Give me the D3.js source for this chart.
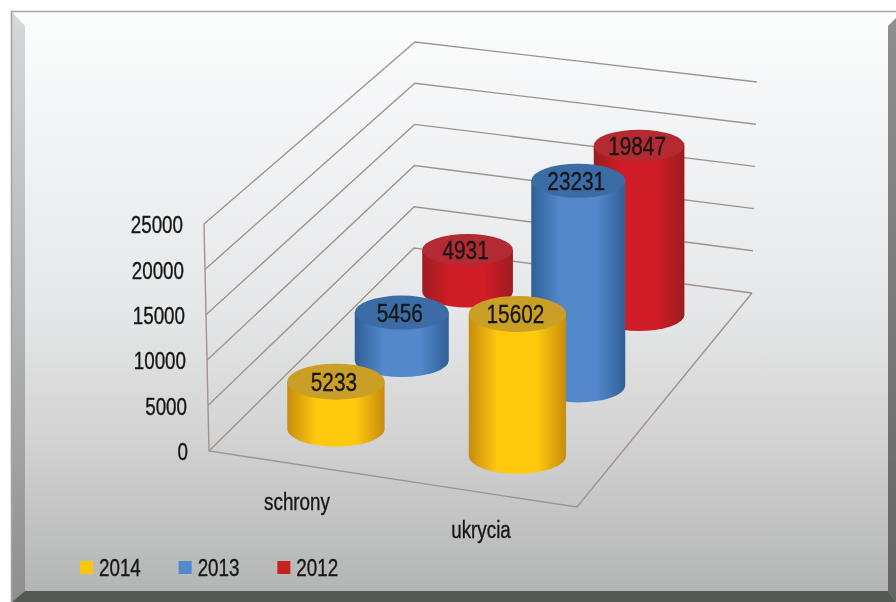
<!DOCTYPE html>
<html>
<head>
<meta charset="utf-8">
<script src="https://cdn.jsdelivr.net/npm/d3@7"></script>
<style>
  html, body { margin: 0; padding: 0; background: #fff; }
  svg { display: block; }
  text { font-family: "Liberation Sans", sans-serif; fill: #161616; stroke: #161616; stroke-width: 0.35px; font-size: 23.5px; }
  .valueLabel { font-size: 26px; }
</style>
</head>
<body>
<div id="d3-container"></div>
<script>
var categories = ["schrony", "ukrycia"];
var years = ["2012", "2013", "2014"];
var values2012 = [4931, 19847];
var values2013 = [5456, 23231];
var values2014 = [5233, 15602];
var yTicks = [0, 5000, 10000, 15000, 20000, 25000];
var legendYears = ["2014", "2013", "2012"];

var width = 896, height = 602;
var seriesValues = {"2012": values2012, "2013": values2013, "2014": values2014};

var colors = {
  "2014": {top: "#c99f25", mid: "#ffc90c", edge: "#c68c12", key: "#fdc60f"},
  "2013": {top: "#3a6ca6", mid: "#5288ca", edge: "#2f5f97", key: "#4f8bcb"},
  "2012": {top: "#b32a30", mid: "#cf1e26", edge: "#9c1c21", key: "#c8201f"}
};

var svg = d3.select("#d3-container")
  .append("svg")
    .attr("width", width)
    .attr("height", height);

var defs = svg.append("defs");

// the reference is a soft scan, so everything gets a slight blur
defs.append("filter").attr("id", "soft")
  .attr("x", 0).attr("y", 0).attr("width", 1).attr("height", 1)
  .append("feGaussianBlur").attr("stdDeviation", 0.45);

// panel background
var bg = defs.append("linearGradient").attr("id", "bg")
  .attr("x1", 0).attr("x2", 0).attr("y1", 0).attr("y2", 1);
[[0, "#fcfdfd"], [0.18, "#f3f5f6"], [0.5, "#e6e7e8"], [0.72, "#d3d3d3"], [1, "#b1b3b2"]].forEach(function(s) {
  bg.append("stop").attr("offset", s[0]).attr("stop-color", s[1]);
});
var leftBevel = defs.append("linearGradient").attr("id", "leftBevel")
  .attr("x1", 0).attr("x2", 0).attr("y1", 0).attr("y2", 1);
[[0, "#d6d8d9"], [0.5, "#b4b5b6"], [1, "#8e8e8e"]].forEach(function(s) {
  leftBevel.append("stop").attr("offset", s[0]).attr("stop-color", s[1]);
});
var rightBevel = defs.append("linearGradient").attr("id", "rightBevel")
  .attr("x1", 0).attr("x2", 0).attr("y1", 0).attr("y2", 1);
[[0, "#8f8f8f"], [1, "#646464"]].forEach(function(s) {
  rightBevel.append("stop").attr("offset", s[0]).attr("stop-color", s[1]);
});

var chart = svg.append("g").attr("filter", "url(#soft)");

chart.append("rect").attr("x", 0).attr("y", 0).attr("width", width).attr("height", height)
  .attr("fill", "#fff");
chart.append("rect").attr("x", 12).attr("y", 12).attr("width", 884).attr("height", 590)
  .attr("fill", "url(#bg)");
chart.append("path").attr("d", "M12,12L25,26V591L12,602Z").attr("fill", "url(#leftBevel)");
chart.append("path").attr("d", "M896,18L888,26V591L896,602Z").attr("fill", "url(#rightBevel)");
chart.append("path").attr("d", "M12,602L25,591H888L896,602Z").attr("fill", "#565857");
chart.append("path").attr("d", "M11.5,602V11.5H896").attr("fill", "none")
  .attr("stroke", "#a9a5a2").attr("stroke-width", 1.6);

// cube corners, front-left, front-right, back-right, back-left
var floorFront = d3.scaleLinear().domain([0, 1]).range([[209, 451], [577, 507]]);
var floorBack = d3.scaleLinear().domain([0, 1]).range([[414, 248], [752, 293]]);
var roofFront = d3.scaleLinear().domain([0, 1]).range([[204, 224], [581, 275]]);
var roofBack = d3.scaleLinear().domain([0, 1]).range([[415, 42], [757, 82]]);

var xBand = d3.scaleBand().domain(categories).range([0, 1]);
var zBand = d3.scaleBand().domain(["2014", "2013", "2012"]).range([0, 1]);
var rx = d3.scaleLinear().domain([0, 1]).range([49.5, 44.5]);
var ry = d3.scaleLinear().domain([0, 1]).range([18.5, 15.5]);

function project(u, v, val) {
  var floor = d3.scaleLinear().domain([0, 1]).range([floorFront(u), floorBack(u)])(v);
  var roof = d3.scaleLinear().domain([0, 1]).range([roofFront(u), roofBack(u)])(v);
  return d3.scaleLinear().domain([0, 25000]).range([floor, roof])(val);
}

// narrow look, there is no condensed font installed
function squeeze(x, y) {
  return "translate(" + x + "," + y + ") scale(0.8,1)";
}

// grid on the walls
var grid = chart.append("g").attr("fill", "none")
  .attr("stroke", "#a0938f").attr("stroke-width", 1.4);
grid.selectAll("path.wall")
  .data(yTicks)
  .enter()
  .append("path")
    .attr("class", "wall")
    .attr("d", function(t) {
      return d3.line()([project(0, 0, t), project(0, 1, t), project(1, 1, t)]);
    });
grid.append("path")
  .attr("d", d3.line()([project(0, 0, 25000), project(0, 0, 0), project(1, 0, 0), project(1, 1, 0)]));

// y tick labels
chart.append("g")
  .selectAll("text")
  .data(yTicks)
  .enter()
  .append("text")
    .attr("transform", function(t) {
      var p = project(0, 0, t);
      return squeeze(p[0] - 21, p[1] + 1);
    })
    .attr("dy", "0.35em")
    .attr("text-anchor", "end")
    .text(function(t) { return t; });

// flatten to one row per cylinder, back ones first
var rows = [];
years.forEach(function(year) {
  categories.forEach(function(cat, i) {
    rows.push({year: year, cat: cat, value: seriesValues[year][i]});
  });
});

rows.forEach(function(d) {
  d.u = xBand(d.cat) + xBand.bandwidth() / 2;
  d.v = zBand(d.year) + zBand.bandwidth() / 2;
  var p = project(d.u, d.v, 0);
  d.base = [p[0] + 2, p[1] - 2];
  d.topY = project(d.u, d.v, d.value)[1] - 2;
  d.rx = rx(d.v);
  d.ry = ry(d.v);
});

years.forEach(function(year) {
  var g = defs.append("linearGradient").attr("id", "side" + year);
  [[0, colors[year].edge], [0.3, colors[year].mid], [0.7, colors[year].mid], [1, colors[year].edge]].forEach(function(s) {
    g.append("stop").attr("offset", s[0]).attr("stop-color", s[1]);
  });
});

var bars = chart.append("g").selectAll("g")
  .data(rows)
  .enter()
  .append("g");

bars.append("path")
  .attr("d", function(d) {
    var x0 = d.base[0] - d.rx, x1 = d.base[0] + d.rx;
    return "M" + x0 + "," + d.topY + "V" + d.base[1] +
      "A" + d.rx + "," + d.ry + " 0 0 0 " + x1 + "," + d.base[1] +
      "V" + d.topY + "Z";
  })
  .attr("fill", function(d) { return "url(#side" + d.year + ")"; });

bars.append("ellipse")
  .attr("cx", function(d) { return d.base[0]; })
  .attr("cy", function(d) { return d.topY; })
  .attr("rx", function(d) { return d.rx; })
  .attr("ry", function(d) { return d.ry; })
  .attr("fill", function(d) { return colors[d.year].top; });

bars.append("text")
  .attr("class", "valueLabel")
  .attr("transform", function(d) { return squeeze(d.base[0] - 2, d.topY); })
  .attr("dy", "0.35em")
  .attr("text-anchor", "middle")
  .text(function(d) { return d.value; });

// category labels under the front edge
chart.append("g")
  .selectAll("text")
  .data(categories)
  .enter()
  .append("text")
    .attr("transform", function(c) {
      var p = project(xBand(c) + xBand.bandwidth() / 2, 0, 0);
      return squeeze(p[0] - 4, p[1] + 37);
    })
    .attr("dy", "0.35em")
    .attr("text-anchor", "middle")
    .text(function(c) { return c; });

// legend
var legendX = d3.scaleBand().domain(legendYears).range([80, 376]);
var legend = chart.append("g")
  .selectAll("g")
  .data(legendYears)
  .enter()
  .append("g")
    .attr("transform", function(y) { return "translate(" + legendX(y) + ",561)"; });

legend.append("rect")
  .attr("width", 13).attr("height", 13)
  .attr("fill", function(y) { return colors[y].key; });

legend.append("text")
  .attr("transform", squeeze(19, 7))
  .attr("dy", "0.35em")
  .text(function(y) { return y; });
</script>
</body>
</html>
